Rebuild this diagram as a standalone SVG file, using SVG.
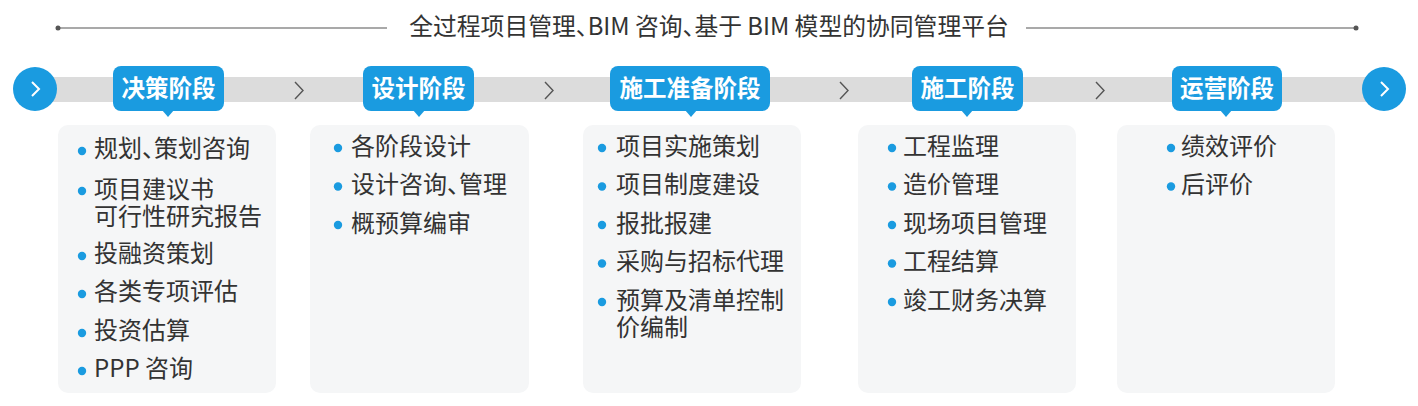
<svg xmlns="http://www.w3.org/2000/svg" width="1418" height="406" viewBox="0 0 1418 406">
<defs>
<style>
.title{font-family:"Noto Sans CJK SC","Noto Sans",sans-serif;font-size:23.8px;fill:#333;font-feature-settings:"halt";}
.item{font-family:"Noto Sans CJK SC","Noto Sans",sans-serif;font-size:24px;fill:#333;font-feature-settings:"halt";}
.lbl{font-family:"Noto Sans CJK SC","Noto Sans",sans-serif;font-size:23.5px;font-weight:bold;fill:#fff;text-anchor:middle;}
.card{fill:#f5f6f7;}
.tag{fill:#1a9be0;}
.dot{fill:#1a9be0;}
.chev{fill:none;stroke:#555;stroke-width:1.4;}
.wchev{fill:none;stroke:#fff;stroke-width:2;}
.tline{stroke:#555;stroke-width:1.2;}
</style>
</defs>
<rect width="1418" height="406" fill="#fff"/>
<g id="title">
<line class="tline" x1="58" y1="28" x2="387" y2="28"/>
<circle cx="58" cy="28" r="2.5" fill="#555"/>
<line class="tline" x1="1026" y1="28" x2="1356" y2="28"/>
<circle cx="1356" cy="28" r="2.5" fill="#555"/>
<text class="title" x="709" y="35" text-anchor="middle">全过程项目管理、BIM 咨询、基于 BIM 模型的协同管理平台</text>
</g>
<g id="connectors">
<rect x="35" y="77" width="1350" height="25" fill="#dcdcdc"/>
<polyline class="chev" points="295,82 303,90.5 295,99"/>
<polyline class="chev" points="545,82 553,90.5 545,99"/>
<polyline class="chev" points="840,82 848,90.5 840,99"/>
<polyline class="chev" points="1096,82 1104,90.5 1096,99"/>
</g>
<g id="start">
<circle cx="35" cy="89" r="22" class="tag"/>
<polyline class="wchev" points="32,82 39,89 32,96"/>
</g>
<g id="end">
<circle cx="1384" cy="89" r="22" class="tag"/>
<polyline class="wchev" points="1381,82 1388,89 1381,96"/>
</g>
<g id="phase1">
<rect class="card" x="58" y="125" width="218" height="268" rx="10"/>
<rect class="tag" x="113" y="66" width="111" height="45" rx="8"/>
<polygon class="tag" points="162,110 174,110 168,117"/>
<text class="lbl" x="168.5" y="97">决策阶段</text>
<circle class="dot" cx="82" cy="151" r="4.2"/><text class="item" x="94" y="157">规划、策划咨询</text>
<circle class="dot" cx="82" cy="191" r="4.2"/><text class="item" x="94" y="198">项目建议书<tspan x="94" dy="26.5">可行性研究报告</tspan></text>
<circle class="dot" cx="82" cy="256" r="4.2"/><text class="item" x="94" y="262">投融资策划</text>
<circle class="dot" cx="82" cy="294" r="4.2"/><text class="item" x="94" y="300">各类专项评估</text>
<circle class="dot" cx="82" cy="333" r="4.2"/><text class="item" x="94" y="339">投资估算</text>
<circle class="dot" cx="82" cy="371" r="4.2"/><text class="item" x="94" y="377">PPP 咨询</text>
</g>
<g id="phase2">
<rect class="card" x="310" y="125" width="219" height="268" rx="10"/>
<rect class="tag" x="363" y="66" width="111" height="45" rx="8"/>
<polygon class="tag" points="413,110 425,110 419,117"/>
<text class="lbl" x="418.5" y="97">设计阶段</text>
<circle class="dot" cx="338" cy="148" r="4.2"/><text class="item" x="351" y="154.5">各阶段设计</text>
<circle class="dot" cx="338" cy="186.5" r="4.2"/><text class="item" x="351" y="193">设计咨询、管理</text>
<circle class="dot" cx="338" cy="225" r="4.2"/><text class="item" x="351" y="231.5">概预算编审</text>
</g>
<g id="phase3">
<rect class="card" x="583" y="125" width="218" height="268" rx="10"/>
<rect class="tag" x="610" y="66" width="160" height="45" rx="8"/>
<polygon class="tag" points="685,110 697,110 691,117"/>
<text class="lbl" x="690" y="97">施工准备阶段</text>
<circle class="dot" cx="602" cy="148" r="4.2"/><text class="item" x="616" y="154.5">项目实施策划</text>
<circle class="dot" cx="602" cy="186.5" r="4.2"/><text class="item" x="616" y="193">项目制度建设</text>
<circle class="dot" cx="602" cy="225" r="4.2"/><text class="item" x="616" y="231.5">报批报建</text>
<circle class="dot" cx="602" cy="263.5" r="4.2"/><text class="item" x="616" y="270">采购与招标代理</text>
<circle class="dot" cx="602" cy="302" r="4.2"/><text class="item" x="616" y="308.5">预算及清单控制<tspan x="616" dy="27">价编制</tspan></text>
</g>
<g id="phase4">
<rect class="card" x="858" y="125" width="218" height="268" rx="10"/>
<rect class="tag" x="912" y="66" width="111" height="45" rx="8"/>
<polygon class="tag" points="961,110 973,110 967,117"/>
<text class="lbl" x="967.5" y="97">施工阶段</text>
<circle class="dot" cx="892" cy="148" r="4.2"/><text class="item" x="903" y="154.5">工程监理</text>
<circle class="dot" cx="892" cy="186.5" r="4.2"/><text class="item" x="903" y="193">造价管理</text>
<circle class="dot" cx="892" cy="225" r="4.2"/><text class="item" x="903" y="231.5">现场项目管理</text>
<circle class="dot" cx="892" cy="263.5" r="4.2"/><text class="item" x="903" y="270">工程结算</text>
<circle class="dot" cx="892" cy="302" r="4.2"/><text class="item" x="903" y="308.5">竣工财务决算</text>
</g>
<g id="phase5">
<rect class="card" x="1117" y="125" width="218" height="268" rx="10"/>
<rect class="tag" x="1172" y="66" width="110" height="45" rx="8"/>
<polygon class="tag" points="1220,110 1232,110 1226,117"/>
<text class="lbl" x="1227" y="97">运营阶段</text>
<circle class="dot" cx="1171" cy="148" r="4.2"/><text class="item" x="1181" y="154.5">绩效评价</text>
<circle class="dot" cx="1171" cy="186.5" r="4.2"/><text class="item" x="1181" y="193">后评价</text>
</g>
</svg>
